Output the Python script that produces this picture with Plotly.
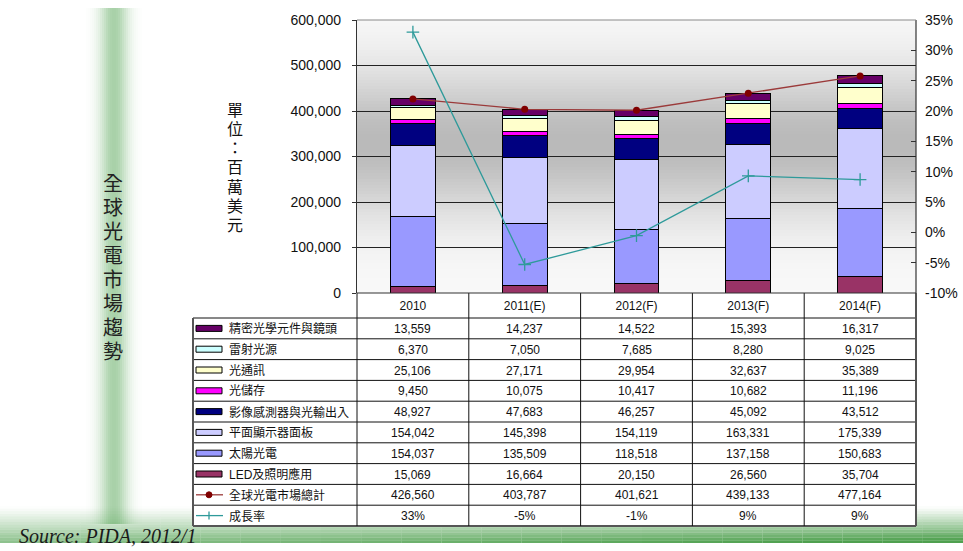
import numpy as np
import plotly.graph_objects as go

# ---------------- data ----------------
categories = ["2010", "2011(E)", "2012(F)", "2013(F)", "2014(F)"]

series_names = ["精密光學元件與鏡頭", "雷射光源", "光通訊", "光儲存",
                "影像感測器與光輸出入", "平面顯示器面板", "太陽光電", "LED及照明應用"]
precision_optics = [13559, 14237, 14522, 15393, 16317]
laser_source = [6370, 7050, 7685, 8280, 9025]
optical_comm = [25106, 27171, 29954, 32637, 35389]
optical_storage = [9450, 10075, 10417, 10682, 11196]
image_sensor_io = [48927, 47683, 46257, 45092, 43512]
flat_panel = [154042, 145398, 154119, 163331, 175339]
solar_pv = [154037, 135509, 118518, 137158, 150683]
led_lighting = [15069, 16664, 20150, 26560, 35704]

total_name = "全球光電市場總計"
total = [426560, 403787, 401621, 439133, 477164]
growth_name = "成長率"
growth = [33.0, -5.3, -0.54, 9.3, 8.7]
growth_labels = ["33%", "-5%", "-1%", "9%", "9%"]

y_ticks = [0, 100000, 200000, 300000, 400000, 500000, 600000]
pct_ticks = [-10, -5, 0, 5, 10, 15, 20, 25, 30, 35]

title_text = "全球光電市場趨勢"
unit_text = "單位：百萬美元"
source_text = "Source: PIDA, 2012/1"

series_values = [precision_optics, laser_source, optical_comm, optical_storage,
                 image_sensor_io, flat_panel, solar_pv, led_lighting]
series_colors = ["#660066", "#CCFFFF", "#FFFFCC", "#FF00FF",
                 "#000080", "#CCCCFF", "#9999FF", "#993366"]
total_color = "#9b3a3a"
total_marker = "#800000"
growth_color = "#2e9a9a"

# ---------------- geometry helpers ----------------
W, H = 963, 551
# the page shows the paper between screen rows 8 and 543
SCR_TOP, SCR_H = 8, 535
PL, PR, PT, PB = 357, 916, 20, 293  # plot area in screen px


def fx(p):
    return p / W


def fy(p):
    return 1 - (p - SCR_TOP) / SCR_H


FONT = "Liberation Sans, Arial, 'Noto Sans CJK TC', sans-serif"
VFONT = "Liberation Sans, 'Noto Sans CJK TC', sans-serif"

fig = go.Figure()

# stacked bars (bottom to top)
for name, vals, col in reversed(list(zip(series_names, series_values, series_colors))):
    fig.add_trace(go.Bar(
        x=categories, y=vals, name=name,
        marker=dict(color=col, line=dict(color="#000000", width=1)),
        showlegend=False,
    ))

fig.add_trace(go.Scatter(
    x=categories, y=total, name=total_name, mode="lines+markers",
    line=dict(color=total_color, width=1.3),
    marker=dict(color=total_marker, size=7, symbol="circle"),
    showlegend=False,
))
fig.add_trace(go.Scatter(
    x=categories, y=growth, name=growth_name, mode="lines+markers", yaxis="y2",
    line=dict(color=growth_color, width=1.3),
    marker=dict(color=growth_color, size=9, symbol="cross-thin",
                line=dict(color=growth_color, width=1.3)),
    showlegend=False,
))

shapes = []

# left vertical green band (horizontal gradient)
band_l, band_r = 86, 142
band_c = (band_l + band_r) / 2
for i in range(band_l, band_r, 2):
    d = abs(i + 1 - band_c) / ((band_r - band_l) / 2)
    a = 0.6 * np.exp(-(d / 0.5) ** 2)
    shapes.append(dict(type="rect", xref="paper", yref="paper", layer="below",
                       x0=fx(i), x1=fx(i + 2), y0=fy(524), y1=fy(8),
                       line=dict(width=0), fillcolor=f"rgba(110,178,110,{a:.3f})"))

# bottom green band
nrows, ncols = 14, 24
y_top, y_bot = 506, 543
for r in range(nrows):
    ya = y_top + (y_bot - y_top) * r / nrows
    yb = y_top + (y_bot - y_top) * (r + 1) / nrows
    tv = (r + 0.5) / nrows
    for c in range(ncols):
        xa = W * c / ncols
        xb = W * (c + 1) / ncols
        hx = (c + 0.5) / ncols
        a = (tv ** 1.2) * (0.6 + 0.4 * hx)
        shapes.append(dict(type="rect", xref="paper", yref="paper", layer="below",
                           x0=fx(xa), x1=fx(xb), y0=fy(yb), y1=fy(ya),
                           line=dict(width=0), fillcolor=f"rgba(60,150,60,{min(a,0.9):.3f})"))

# plot area gray gradient background
nstrip = 91
for k in range(nstrip):
    pa = PT + (PB - PT) * k / nstrip
    pb = PT + (PB - PT) * (k + 1) / nstrip
    frac = 1 - ((pa + pb) / 2 - PT) / (PB - PT)  # 0 bottom .. 1 top
    v = frac * 600000
    g = int(250 - 64 * np.exp(-((v - 330000) / 160000) ** 2))
    shapes.append(dict(type="rect", xref="paper", yref="paper", layer="below",
                       x0=fx(PL), x1=fx(PR), y0=fy(pb), y1=fy(pa),
                       line=dict(width=0), fillcolor=f"rgb({g},{g},{g})"))

# table
TL = 193
col_w = (PR - PL) / len(categories)
col_edges = [PL + col_w * i for i in range(len(categories) + 1)]
col_centers = [PL + col_w * (i + 0.5) for i in range(len(categories))]
head_b = 318
row_names = series_names + [total_name, growth_name]
nr = len(row_names)
row_h = (526 - head_b) / nr
row_edges = [head_b + row_h * i for i in range(nr + 1)]

shapes.append(dict(type="rect", xref="paper", yref="paper", layer="below",
                   x0=fx(TL), x1=fx(PR), y0=fy(row_edges[-1]), y1=fy(head_b),
                   line=dict(width=0), fillcolor="white"))
shapes.append(dict(type="rect", xref="paper", yref="paper", layer="below",
                   x0=fx(PL), x1=fx(PR), y0=fy(head_b), y1=fy(PB),
                   line=dict(width=0), fillcolor="white"))

inner = dict(color="#111111", width=1)
outer = dict(color="#555555", width=2)
for i, ye in enumerate(row_edges):
    shapes.append(dict(type="line", xref="paper", yref="paper",
                       x0=fx(TL), x1=fx(PR), y0=fy(ye), y1=fy(ye),
                       line=outer if i == len(row_edges) - 1 else inner))
shapes.append(dict(type="line", xref="paper", yref="paper",
                   x0=fx(TL), x1=fx(TL), y0=fy(row_edges[-1]), y1=fy(head_b), line=outer))
for i, xe in enumerate(col_edges):
    shapes.append(dict(type="line", xref="paper", yref="paper",
                       x0=fx(xe), x1=fx(xe), y0=fy(row_edges[-1]), y1=fy(PB),
                       line=outer if i == len(col_edges) - 1 else inner))
# right axis line through plot
shapes.append(dict(type="line", xref="paper", yref="paper",
                   x0=fx(PR), x1=fx(PR), y0=fy(PB), y1=fy(PT), line=dict(color="#333333", width=1.2)))
# x axis line / header top
shapes.append(dict(type="line", xref="paper", yref="paper",
                   x0=fx(PL), x1=fx(PR), y0=fy(PB), y1=fy(PB), line=dict(color="#333333", width=1.2)))
# plot top border
shapes.append(dict(type="line", xref="paper", yref="paper",
                   x0=fx(PL), x1=fx(PR), y0=fy(PT), y1=fy(PT), line=dict(color="#8a8a8a", width=1.2)))

annotations = []
ix0, ix1 = 196, 222
for i, name in enumerate(row_names):
    yc = (row_edges[i] + row_edges[i + 1]) / 2
    if i < len(series_names):
        shapes.append(dict(type="rect", xref="paper", yref="paper",
                           x0=fx(ix0), x1=fx(ix1), y0=fy(yc + 3), y1=fy(yc - 3),
                           fillcolor=series_colors[i], line=dict(color="#000000", width=1)))
        vals = [f"{v:,}" for v in series_values[i]]
    elif name == total_name:
        shapes.append(dict(type="line", xref="paper", yref="paper",
                           x0=fx(ix0), x1=fx(ix1 + 1), y0=fy(yc), y1=fy(yc),
                           line=dict(color=total_color, width=1.3)))
        shapes.append(dict(type="circle", xref="paper", yref="paper",
                           x0=fx(206), x1=fx(212), y0=fy(yc + 3), y1=fy(yc - 3),
                           fillcolor=total_marker, line=dict(color=total_marker, width=1)))
        vals = [f"{v:,}" for v in total]
    else:
        shapes.append(dict(type="line", xref="paper", yref="paper",
                           x0=fx(ix0), x1=fx(ix1 + 1), y0=fy(yc), y1=fy(yc),
                           line=dict(color=growth_color, width=1.3)))
        shapes.append(dict(type="line", xref="paper", yref="paper",
                           x0=fx(209), x1=fx(209), y0=fy(yc + 4), y1=fy(yc - 4),
                           line=dict(color=growth_color, width=1.3)))
        vals = growth_labels
    annotations.append(dict(xref="paper", yref="paper", x=fx(227), y=fy(yc + 0.5),
                            text=name, showarrow=False, xanchor="left", yanchor="middle",
                            font=dict(family=FONT, size=12, color="#111111")))
    for xc, t in zip(col_centers, vals):
        annotations.append(dict(xref="paper", yref="paper", x=fx(xc), y=fy(yc + 0.5),
                                text=t, showarrow=False, xanchor="center", yanchor="middle",
                                font=dict(family=FONT, size=12, color="#111111")))

# vertical title
for k, ch in enumerate(title_text):
    annotations.append(dict(xref="paper", yref="paper", x=fx(113), y=fy(184 + 24 * k),
                            text=ch, showarrow=False, xanchor="center", yanchor="middle",
                            font=dict(family=VFONT, size=20, color="#222222")))
# unit label
for k, ch in enumerate(unit_text):
    annotations.append(dict(xref="paper", yref="paper", x=fx(235), y=fy(110 + 19.3 * k),
                            text=ch, showarrow=False, xanchor="center", yanchor="middle",
                            font=dict(family=VFONT, size=16, color="#111111")))
# source
annotations.append(dict(xref="paper", yref="paper", x=fx(17), y=fy(536),
                        text=f"<i>{source_text}</i>", showarrow=False,
                        xanchor="left", yanchor="middle",
                        font=dict(family="Liberation Serif, DejaVu Serif, serif", size=20,
                                  color="#1a1a1a")))

fig.update_layout(
    width=W, height=H,
    margin=dict(l=0, r=0, t=0, b=0),
    paper_bgcolor="white", plot_bgcolor="rgba(0,0,0,0)",
    barmode="stack", bargap=0.6,
    showlegend=False,
    shapes=shapes, annotations=annotations,
    xaxis=dict(domain=[fx(PL), fx(PR)], type="category", showgrid=False, showline=False,
               ticks="", zeroline=False, ticklabelstandoff=4,
               tickfont=dict(family=FONT, size=12, color="#111111")),
    yaxis=dict(domain=[fy(PB), fy(PT)], range=[0, 600000], tickvals=y_ticks,
               ticktext=[f"{v:,}" for v in y_ticks], ticks="outside", ticklen=4,
               tickcolor="#333333", showgrid=True, gridcolor="#222222", gridwidth=1,
               showline=True, linecolor="#333333", linewidth=1.2, zeroline=False,
               ticklabelstandoff=8,
               tickfont=dict(family=FONT, size=14, color="#111111")),
    yaxis2=dict(overlaying="y", side="right", range=[-10, 35], tickvals=pct_ticks,
                ticktext=[f"{v}%" for v in pct_ticks], ticks="inside", ticklen=5,
                tickcolor="#333333", showgrid=False, showline=False, zeroline=False,
                ticklabelstandoff=8,
                tickfont=dict(family=FONT, size=14, color="#111111")),
)

fig.write_html(
    "out.html",
    config={"displayModeBar": False},
    post_script="document.body.style.margin='0';document.body.style.overflow='hidden';",
)
